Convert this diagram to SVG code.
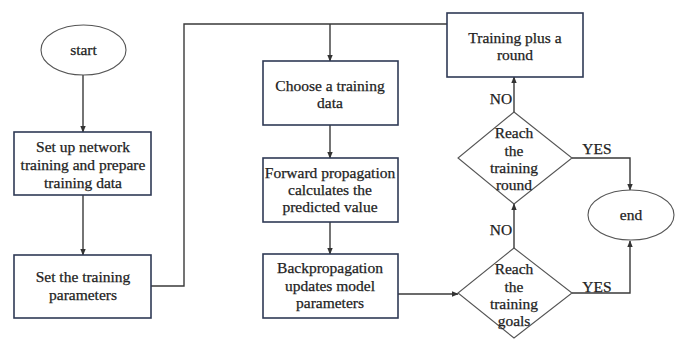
<svg xmlns="http://www.w3.org/2000/svg" width="677" height="340" viewBox="0 0 677 340" font-family="'Liberation Serif', 'DejaVu Serif', 'Times New Roman', serif">
<defs>
<style>
.box{fill:#fff;stroke:#2f3a55;stroke-width:1.6}
.sh{fill:#fff;stroke:#555;stroke-width:1.1}
.ln{fill:none;stroke:#3a3a3a;stroke-width:1.4}
.t{font-family:'Liberation Serif', 'DejaVu Serif', serif;font-size:15.5px;fill:#222;text-anchor:middle;stroke:#222;stroke-width:0.25}
</style>
<marker id="ar" viewBox="0 0 10 10" refX="9" refY="5" markerWidth="5" markerHeight="5" orient="auto">
<path d="M0,1 L10,5 L0,9 z" fill="#333"/>
</marker>
</defs>
<rect width="677" height="340" fill="#fff"/>
<g id="connectors">
<path class="ln" d="M83,75 V132" marker-end="url(#ar)"/>
<path class="ln" d="M83,195 V255" marker-end="url(#ar)"/>
<path class="ln" d="M151,286 H184 V24 H447"/>
<path class="ln" d="M330,24 V61" marker-end="url(#ar)"/>
<path class="ln" d="M330,125 V158" marker-end="url(#ar)"/>
<path class="ln" d="M330,222 V254" marker-end="url(#ar)"/>
<path class="ln" d="M398,294 H458" marker-end="url(#ar)"/>
<path class="ln" d="M514,112 V77" marker-end="url(#ar)"/>
<path class="ln" d="M514,248 V204" marker-end="url(#ar)"/>
<path class="ln" d="M572,158 H630 V190" marker-end="url(#ar)"/>
<path class="ln" d="M572,293 H630 V241" marker-end="url(#ar)"/>
<text class="t" x="501" y="104">NO</text>
<text class="t" x="501" y="235">NO</text>
<text class="t" x="597" y="154">YES</text>
<text class="t" x="597" y="292">YES</text>
</g>
<g id="start">
<ellipse class="sh" cx="83.5" cy="50" rx="42.5" ry="25"/>
<text class="t" x="83.5" y="55">start</text>
</g>
<g id="setup">
<rect class="box" x="14" y="132" width="137" height="63"/>
<text class="t" x="83" y="152">Set up network</text>
<text class="t" x="83" y="170">training and prepare</text>
<text class="t" x="83" y="188">training data</text>
</g>
<g id="params">
<rect class="box" x="14" y="255" width="137" height="63"/>
<text class="t" x="83" y="282">Set the training</text>
<text class="t" x="83" y="300">parameters</text>
</g>
<g id="choose">
<rect class="box" x="263" y="61" width="135" height="64"/>
<text class="t" x="330" y="91">Choose a training</text>
<text class="t" x="330" y="108">data</text>
</g>
<g id="forward">
<rect class="box" x="263" y="158" width="135" height="64"/>
<text class="t" x="330" y="178">Forward propagation</text>
<text class="t" x="330" y="195">calculates the</text>
<text class="t" x="330" y="212">predicted value</text>
</g>
<g id="backprop">
<rect class="box" x="263" y="254" width="135" height="64"/>
<text class="t" x="330" y="273">Backpropagation</text>
<text class="t" x="330" y="291">updates model</text>
<text class="t" x="330" y="308">parameters</text>
</g>
<g id="plusround">
<rect class="box" x="447" y="13" width="136" height="64"/>
<text class="t" x="515" y="43">Training plus a</text>
<text class="t" x="515" y="60">round</text>
</g>
<g id="reachround">
<polygon class="sh" points="514,112 572,158 514,204 458,158"/>
<text class="t" x="514" y="138">Reach</text>
<text class="t" x="514" y="156">the</text>
<text class="t" x="514" y="173">training</text>
<text class="t" x="514" y="190">round</text>
</g>
<g id="reachgoals">
<polygon class="sh" points="514,248 572,293 514,338 458,293"/>
<text class="t" x="514" y="274">Reach</text>
<text class="t" x="514" y="292">the</text>
<text class="t" x="514" y="309">training</text>
<text class="t" x="514" y="326">goals</text>
</g>
<g id="end">
<ellipse class="sh" cx="631" cy="215" rx="43" ry="25"/>
<text class="t" x="631" y="220">end</text>
</g>
</svg>
